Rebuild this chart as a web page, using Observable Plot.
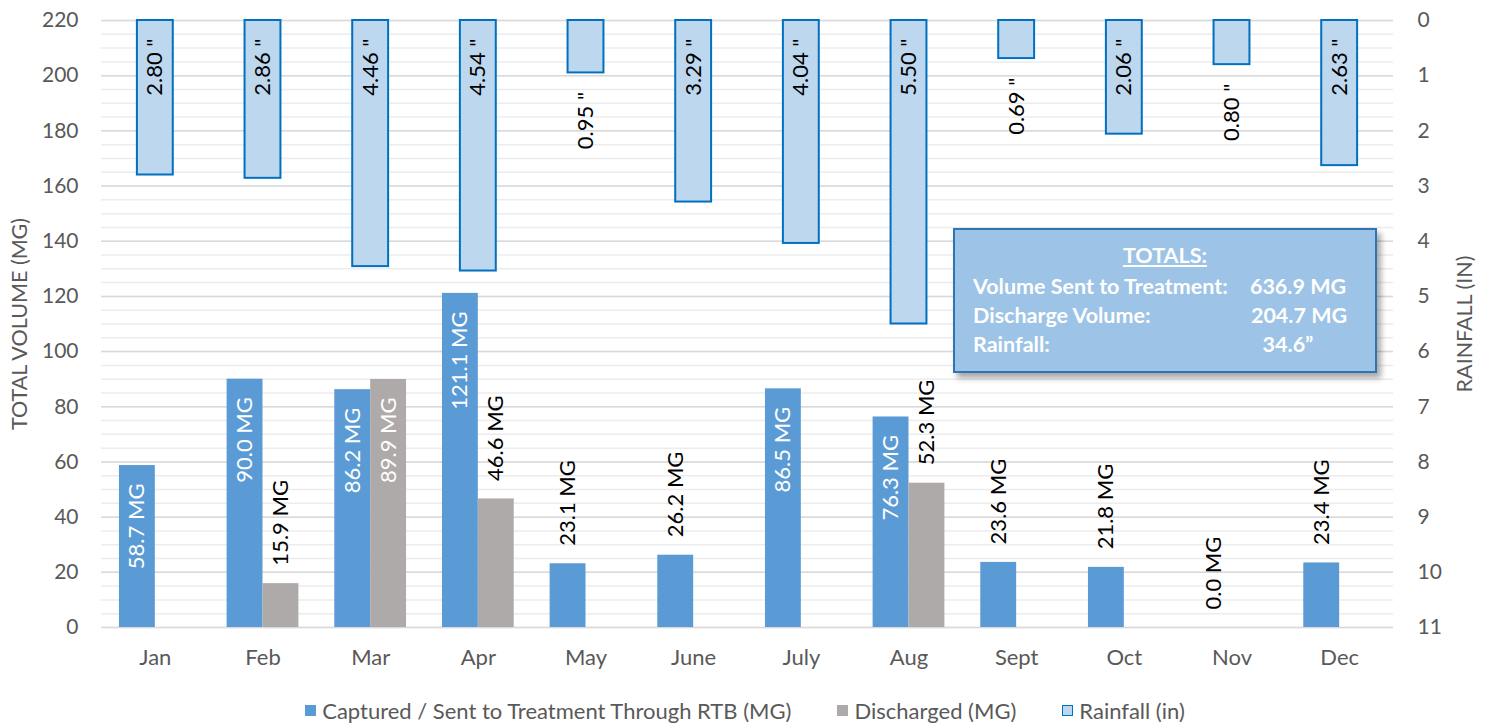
<!DOCTYPE html>
<html>
<head>
<meta charset="utf-8">
<script src="https://cdn.jsdelivr.net/npm/d3@7"></script>
<script src="https://cdn.jsdelivr.net/npm/@observablehq/plot@0.6"></script>
<style>
  html, body { margin: 0; padding: 0; background: #fff; }
  #wrap { position: relative; width: 1490px; height: 726px; font-family: Lato, "Open Sans", sans-serif; }
  #chart svg { display: block; }
  #totals {
    position: absolute; left: 953px; top: 228px; width: 420px; height: 141px;
    background: #9dc3e6; border: 2px solid #2e75b6; box-shadow: 4px 5px 6px rgba(0,0,0,0.35);
    color: #fff; font-weight: bold; font-size: 21.5px; line-height: 1;
  }
  #totals .row { position: absolute; left: 18px; white-space: nowrap; }
  #totals .val { position: absolute; white-space: nowrap; transform: translateX(-50%); }
  #legend {
    position: absolute; left: 0; top: 680px; width: 1490px; height: 46px;
    display: flex; justify-content: center; align-items: center; gap: 46px;
    font-size: 22px; color: #595959; padding-top: 14px; box-sizing: border-box;
  }
  #legend .item { display: flex; align-items: center; gap: 6px; }
  #legend .sw { width: 11px; height: 11px; box-sizing: border-box; }
</style>
</head>
<body>
<div id="wrap">
  <div id="chart"></div>
  <div id="totals"></div>
  <div id="legend"></div>
</div>
<script>
const months = ["Jan","Feb","Mar","Apr","May","June","July","Aug","Sept","Oct","Nov","Dec"];
const captured = [58.7, 90.0, 86.2, 121.1, 23.1, 26.2, 86.5, 76.3, 23.6, 21.8, 0.0, 23.4];
const discharged = [0, 15.9, 89.9, 46.6, 0, 0, 0, 52.3, 0, 0, 0, 0];
const rainfall = [2.80, 2.86, 4.46, 4.54, 0.95, 3.29, 4.04, 5.50, 0.69, 2.06, 0.80, 2.63];
const volumeTicks = [0, 20, 40, 60, 80, 100, 120, 140, 160, 180, 200, 220];
const rainTicks = [0, 1, 2, 3, 4, 5, 6, 7, 8, 9, 10, 11];
const seriesNames = ["Captured / Sent to Treatment Through RTB (MG)", "Discharged (MG)", "Rainfall (in)"];
const totalsLabels = ["Volume Sent to Treatment:", "Discharge Volume:", "Rainfall:"];
const totalsValues = ["636.9 MG", "204.7 MG", "34.6\u201D"];

const VMAX = 220, RMAX = 11;
const rainToVol = r => VMAX - r * (VMAX / RMAX);

const rows = months.map((m, i) => ({i, month: m, captured: captured[i], discharged: discharged[i], rain: rainfall[i]}));

const C_CAP = "#5b9bd5", C_DIS = "#aeaaaa", C_RAIN_FILL = "#bdd7ee", C_RAIN_STROKE = "#0070c0";
const labelFont = 22;

const chart = Plot.plot({
  width: 1490, height: 680,
  marginLeft: 101, marginRight: 97, marginTop: 20, marginBottom: 53,
  style: {fontFamily: "Lato, 'Open Sans', sans-serif", color: "#595959", background: "white"},
  x: {type: "linear", domain: [-0.5, 11.5]},
  y: {domain: [0, VMAX]},
  marks: [
    Plot.gridY(d3.range(0, VMAX + 1, 5), {stroke: "#ececec", strokeOpacity: 1, strokeWidth: 1.5}),
    Plot.gridY(volumeTicks, {stroke: "#d9d9d9", strokeOpacity: 1, strokeWidth: 1.5}),
    Plot.rect(rows, {x1: d => d.i - 1/3, x2: d => d.i, y1: 0, y2: "captured", fill: C_CAP, inset: 0}),
    Plot.rect(rows.filter(d => d.discharged > 0), {x1: d => d.i, x2: d => d.i + 1/3, y1: 0, y2: "discharged", fill: C_DIS, inset: 0}),
    Plot.rect(rows, {x1: d => d.i - 1/6, x2: d => d.i + 1/6, y1: VMAX, y2: d => rainToVol(d.rain), fill: C_RAIN_FILL, stroke: C_RAIN_STROKE, strokeWidth: 2, inset: 0}),
    // captured labels
    Plot.text(rows.filter(d => d.captured >= 50), {x: d => d.i - 1/6, y: "captured", text: d => `${d.captured.toFixed(1)} MG`, rotate: -90, textAnchor: "end", dy: 18, fill: "white", fontSize: labelFont}),
    Plot.text(rows.filter(d => d.captured < 50), {x: d => d.i - 1/6, y: "captured", text: d => `${d.captured.toFixed(1)} MG`, rotate: -90, textAnchor: "start", dy: -18, fill: "black", fontSize: labelFont}),
    // discharged labels
    Plot.text(rows.filter(d => d.discharged >= 80), {x: d => d.i + 1/6, y: "discharged", text: d => `${d.discharged.toFixed(1)} MG`, rotate: -90, textAnchor: "end", dy: 18, fill: "white", fontSize: labelFont}),
    Plot.text(rows.filter(d => d.discharged > 0 && d.discharged < 80), {x: d => d.i + 1/6, y: "discharged", text: d => `${d.discharged.toFixed(1)} MG`, rotate: -90, textAnchor: "start", dy: -18, fill: "black", fontSize: labelFont}),
    // rainfall labels
    Plot.text(rows.filter(d => d.rain >= 2), {x: "i", y: () => VMAX, text: d => `${d.rain.toFixed(2)} "`, rotate: -90, textAnchor: "end", dy: 18, fill: "black", fontSize: labelFont}),
    Plot.text(rows.filter(d => d.rain < 2), {x: "i", y: d => rainToVol(d.rain), text: d => `${d.rain.toFixed(2)} "`, rotate: -90, textAnchor: "end", dy: 19, fill: "black", fontSize: labelFont}),
    // axes
    Plot.axisX(d3.range(months.length), {tickFormat: i => months[i], tickSize: 0, tickPadding: 22, fontSize: 22, label: null}),
    Plot.axisY(volumeTicks, {anchor: "left", tickSize: 0, tickPadding: 23, fontSize: 21, label: null}),
    Plot.axisY(rainTicks.map(rainToVol), {anchor: "right", tickFormat: v => String(Math.round((VMAX - v) / (VMAX / RMAX))), tickSize: 0, tickPadding: 24, fontSize: 21, label: null}),
    Plot.text(["TOTAL VOLUME (MG)"], {frameAnchor: "left", dx: -81, rotate: -90, textAnchor: "middle", lineAnchor: "middle", fontSize: 21.5, fill: "#595959"}),
    Plot.text(["RAINFALL (IN)"], {frameAnchor: "right", dx: 72, rotate: -90, textAnchor: "middle", lineAnchor: "middle", fontSize: 21.5, fill: "#595959"})
  ]
});
document.getElementById("chart").appendChild(chart);

// Totals box
const box = document.getElementById("totals");
const title = document.createElement("div");
title.textContent = "TOTALS:";
title.style.cssText = "position:absolute;left:0;right:0;top:15px;text-align:center;text-decoration:underline;";
box.appendChild(title);
const valCenters = [343, 344, 333];
totalsLabels.forEach((t, k) => {
  const top = 46 + k * 29;
  const a = document.createElement("div");
  a.className = "row"; a.style.top = top + "px"; a.textContent = t;
  box.appendChild(a);
  const b = document.createElement("div");
  b.className = "val"; b.style.top = top + "px"; b.style.left = valCenters[k] + "px"; b.textContent = totalsValues[k];
  box.appendChild(b);
});

// Legend
const legend = document.getElementById("legend");
const swatchStyles = [
  `background:${C_CAP};`,
  `background:${C_DIS};`,
  `background:${C_RAIN_FILL};border:1.5px solid ${C_RAIN_STROKE};`
];
seriesNames.forEach((name, k) => {
  const it = document.createElement("div");
  it.className = "item";
  it.innerHTML = `<span class="sw" style="${swatchStyles[k]}"></span><span>${name}</span>`;
  legend.appendChild(it);
});
</script>
</body>
</html>
